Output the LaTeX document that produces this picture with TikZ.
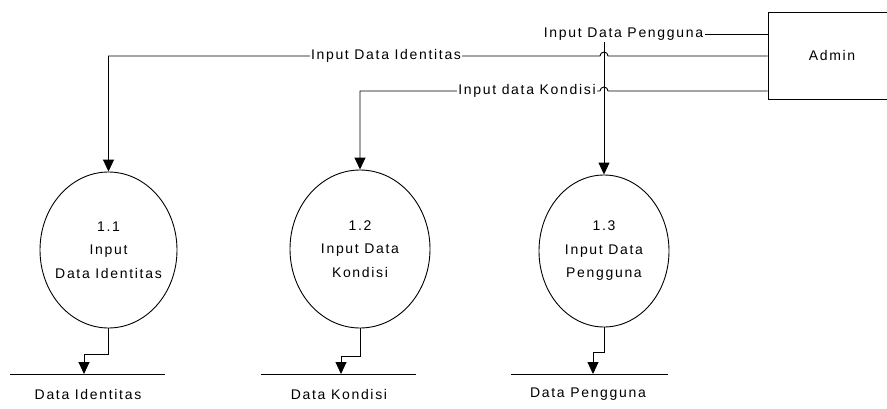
\documentclass[tikz,border=0pt]{standalone}
\usepackage{fontspec}
\setmainfont{Liberation Sans}[LetterSpace=12]
\usetikzlibrary{arrows.meta,shapes.geometric}
\begin{document}
\begin{tikzpicture}[x=1pt,y=1pt,line width=0.9pt,
  every node/.style={font=\fontsize{14pt}{23.5pt}\selectfont},
  proc/.style={draw,ellipse,inner sep=0pt},
  proctext/.style={align=center,inner sep=0pt},
  entity/.style={draw,rectangle,minimum width=128pt,minimum height=87pt,inner sep=0pt},
  flow/.style={-{Triangle[length=12pt,width=11pt]}},
  lbl/.style={fill=white,inner sep=1.5pt},
  storeline/.style={line width=1pt}]
\useasboundingbox (0,0) rectangle (887,408);

% external entity
\node[entity] (admin) at (832,352.5) {Admin};

% processes
\node[proc,minimum width=137pt,minimum height=156pt,
  label={[proctext]center:1.1\\Input\\Data Identitas}] (p1) at (108.5,158) {};
\node[proc,minimum width=140pt,minimum height=158pt,
  label={[proctext]center:1.2\\Input Data\\Kondisi}] (p2) at (360,159) {};
\node[proc,minimum width=130pt,minimum height=152pt,
  label={[proctext]center:1.3\\Input Data\\Pengguna}] (p3) at (604,157) {};

% data stores
\coordinate (s1a) at (10,34);  \coordinate (s1b) at (165,34);
\coordinate (s2a) at (261,34); \coordinate (s2b) at (416,34);
\coordinate (s3a) at (511,34); \coordinate (s3b) at (668,34);
\coordinate (s1in) at (84,34);
\coordinate (s2in) at (341,34);
\coordinate (s3in) at (593,34);
\draw[storeline] (s1a) -- (s1b);
\draw[storeline] (s2a) -- (s2b);
\draw[storeline] (s3a) -- (s3b);
\node (d1) at (88,14) {Data Identitas};
\node (d2) at (339,14) {Data Kondisi};
\node (d3) at (588,14) {Data Pengguna};

% flows from Admin
\draw[flow] ([yshift=21.5pt]admin.west) -- (604,374) -- (p3.north);
\draw[flow] ([yshift=-0.5pt]admin.west) -- (608,352)
  arc[start angle=0,end angle=180,radius=4] -- (108.5,352) -- (p1.north);
\draw[flow] ([yshift=-35.5pt]admin.west) -- (608,317)
  arc[start angle=0,end angle=180,radius=4] -- (360,317) -- (p2.north);

\node[lbl] (l3) at (623.5,374) {Input Data Pengguna};
\node[lbl] (l1) at (386,352) {Input Data Identitas};
\node[lbl] (l2) at (527,317) {Input data Kondisi};

% flows to stores
\draw[flow] (p1.south) -- ++(0,-26) -| (s1in);
\draw[flow] (p2.south) -- ++(0,-28) -| (s2in);
\draw[flow] (p3.south) -- ++(0,-25) -| (s3in);
\end{tikzpicture}
\end{document}
